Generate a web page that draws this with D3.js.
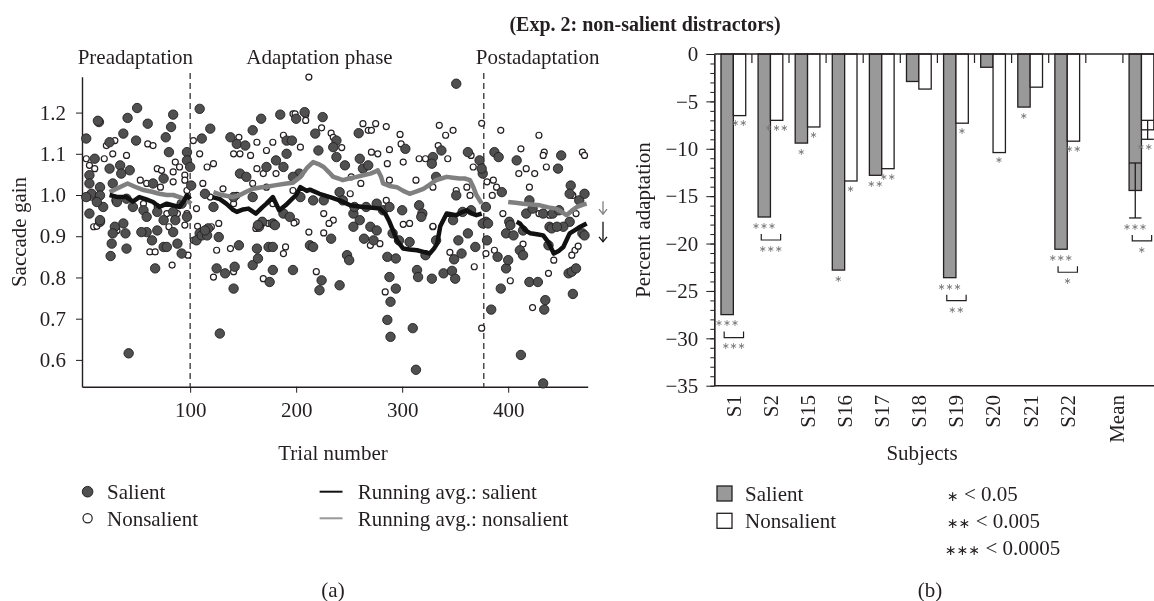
<!DOCTYPE html>
<html>
<head>
<meta charset="utf-8">
<script src="https://cdn.jsdelivr.net/npm/d3@7"></script>
<style>
body { margin: 0; background: #fff; }
svg { will-change: transform; }
text { font-family: "Liberation Serif", "Times New Roman", serif; font-size: 21px; fill: #231f20; }
.star { font-family: "DejaVu Sans", sans-serif; font-size: 9.5px; fill: #7a7a7a; }
.title { font-weight: bold; font-size: 20px; }
</style>
</head>
<body>
<div id="chart"></div>
<script>
// ---------- data, panel (a) ----------
const phaseBounds = [100, 377]
const phaseLabels = ["Preadaptation", "Adaptation phase", "Postadaptation"]
const gainTicks = [0.6, 0.7, 0.8, 0.9, 1.0, 1.1, 1.2]
const trialTicks = [100, 200, 300, 400]

// [trial, saccade gain]
const salientPts = [
    [2,1.137],[14,1.177],[13,1.18],[41,1.187],[50,1.211],[60,1.173],[37,1.149],[49,1.132],[84,1.195],[82,1.165],[77,1.14],[80,1.104],
    [109,1.209],[111,1.137],[119,1.161],[97,1.104],[24,1.128],[10,1.088],[24,1.064],[34,1.072],[43,1.06],[5,1.048],[35,1.052],[5,1.028],
    [27,1.028],[15,1.019],[65,1.028],[75,1.04],[7,1.003],[2,0.995],[15,0.999],[18,0.971],[12,0.983],[31,0.983],[40,0.991],[46,0.971],
    [56,0.963],[59,0.947],[69,0.959],[75,0.939],[84,0.959],[92,0.979],[97,0.947],[101,1.023],[97,1.084],[100,1.068],[5,0.955],[15,0.935],
    [29,0.923],[37,0.931],[59,0.91],[69,0.914],[84,0.91],[117,0.919],[109,0.907],[114,1.003],[122,0.971],[138,1.14],[144,1.124],[152,1.12],
    [159,1.157],[167,1.185],[185,1.195],[191,1.132],[191,1.1],[181,1.084],[172,1.068],[147,1.052],[153,1.044],[188,1.068],[203,1.052],
    [141,0.995],[159,0.995],[168,0.935],[178,0.931],[165,0.923],[188,0.955],[194,0.947],
    [15,0.939],[27,0.907],[26,0.882],[25,0.852],[39,0.907],[40,0.87],[54,0.91],[64,0.89],[67,0.822],[75,0.874],[78,0.874],[88,0.882],
    [92,0.858],[86,0.939],[42,0.616],[106,0.89],[111,0.902],[116,0.902],[114,0.914],[127,0.898],[125,0.822],[133,0.81],[142,0.826],
    [146,0.878],[141,0.773],[128,0.664],[159,0.83],[164,0.846],[163,0.87],[164,0.927],[174,0.874],[178,0.874],[175,0.789],[178,0.818],
    [197,0.818],[180,0.927],
    [200,1.185],[208,1.201],[225,1.189],[218,1.149],[221,1.108],[196,1.132],[238,1.132],[235,1.116],[238,1.092],[259,1.15],[246,1.072],
    [260,1.088],[263,1.064],[268,1.072],[303,1.112],[329,1.092],[337,1.108],[328,1.076],[351,1.27],[362,1.104],[373,1.084],[376,1.052],
    [387,1.104],[391,1.092],[408,1.084],[450,1.096],[447,1.064],[459,1.023],[204,0.995],[197,1.044],[226,0.987],[216,0.987],[241,1.007],
    [244,0.987],[254,0.955],[260,0.939],[255,0.971],[270,0.923],[266,0.971],[276,0.979],[282,0.963],[288,0.971],[291,0.907],[300,0.963],
    [316,0.975],[319,0.955],[318,0.947],[332,1.044],[351,0.999],[357,0.959],[348,0.939],[365,0.963],[375,1.064],[379,0.935],[379,0.971],
    [401,0.935],[417,0.955],[423,0.967],[433,0.955],[442,0.955],[448,0.963],[458,1.003],[467,0.987],[472,1.003],[470,0.907],[458,0.935],
    [452,0.923],[439,0.923],[414,0.914],[398,0.907],[420,0.987],[394,1.007],
    [213,0.878],[216,0.874],[222,0.769],[224,0.793],[233,0.894],[241,0.781],[248,0.854],[250,0.842],[254,0.923],[264,0.894],[273,0.89],
    [276,0.914],[286,0.85],[288,0.801],[286,0.697],[289,0.656],[289,0.741],[294,0.773],[294,0.846],[297,0.89],[307,0.886],[310,0.677],
    [313,0.576],[314,0.818],[315,0.801],[322,0.854],[328,0.797],[332,0.89],[339,0.81],[347,0.816],[349,0.844],[350,0.797],[353,0.89],
    [356,0.858],[362,0.907],[369,0.874],[376,0.931],[381,0.931],[380,0.89],[384,0.722],[390,0.85],[393,0.773],[398,0.822],[400,0.842],
    [402,0.927],[405,0.902],[412,0.612],[411,0.866],[414,0.854],[420,0.789],[428,0.789],[435,0.745],[434,0.722],[433,0.543],[441,0.919],
    [438,0.878],[446,0.923],[457,0.81],[461,0.76],[460,0.814],[464,0.822],[472,0.902]
]

const nonsalientPts = [
    [2,1.088],[5,1.072],[10,1.064],[19,1.088],[21,1.12],[29,1.132],[27,1.1],[40,1.096],[60,1.124],[65,1.12],[69,1.064],[73,1.06],
    [84,1.056],[86,1.08],[90,1.068],[95,1.048],[103,1.132],[109,1.1],[122,1.076],[116,1.068],[112,1.028],[95,1.036],[59,1.028],[84,1.032],
    [72,1.019],[97,1.011],[53,1.036],[29,0.987],[56,0.979],[69,0.971],[78,0.955],[88,0.955],[97,0.955],[106,0.967],[119,0.995],[131,1.015],
    [144,0.999],[141,1.1],[146,1.14],[147,1.1],[157,1.096],[163,1.128],[172,1.108],[178,1.128],[188,1.145],[197,1.197],[163,1.064],
    [169,1.052],[181,1.052],[159,1.028],[172,1.019],[197,1.011],[127,0.931],[141,0.979],[178,0.979],[200,0.935],[7,0.995],
    [9,0.923],[12,0.924],[31,0.914],[62,0.862],[67,0.862],[80,0.923],[83,0.83],[95,0.927],[98,0.854],[103,0.89],[107,0.924],[120,0.923],
    [122,0.801],[125,0.866],[138,0.87],[141,0.814],[169,0.797],[162,0.919],[188,0.858],[190,0.874],[174,0.931],
    [212,1.286],[199,1.197],[209,1.195],[209,1.181],[224,1.163],[233,1.15],[235,1.14],[243,1.115],[263,1.173],[268,1.157],[271,1.157],
    [275,1.173],[285,1.166],[298,1.147],[299,1.124],[288,1.11],[277,1.1],[271,1.104],[348,1.157],[341,1.145],[335,1.169],[334,1.12],
    [375,1.174],[393,1.157],[412,1.112],[429,1.145],[434,1.104],[433,1.096],[470,1.104],[472,1.096],[204,1.116],[301,1.08],[286,1.076],
    [316,1.088],[322,1.088],[343,1.088],[367,1.068],[365,1.096],[417,1.064],[410,1.052],[425,1.052],[436,1.068],[252,1.044],[261,1.028],
    [288,1.036],[313,1.036],[329,1.019],[351,1.011],[361,1.019],[380,1.032],[386,1.036],[389,1.019],[385,0.999],[420,1.019],[461,0.999],
    [226,0.955],[251,1.003],[235,0.939],[285,0.987],[307,0.931],[329,0.923],[364,0.999],[395,0.955],[429,0.955],[439,0.951],[464,0.955],
    [198,0.932],[212,0.91],[219,0.814],[226,0.908],[231,0.931],[270,0.878],[279,0.882],[284,0.765],[301,0.929],[329,0.924],[345,0.861],
    [368,0.826],[379,0.858],[375,0.677],[387,0.866],[402,0.792],[414,0.881],[423,0.727],[438,0.81],[443,0.842],[463,0.866],[466,0.876],
    [460,0.854]
]

// running averages, one segment per phase
const avgSalient = [
    [[24,1.0],[32,0.995],[40,0.995],[46,0.984],[52,0.995],[58,0.99],[65,0.983],[71,0.971],[78,0.979],[84,0.975],[90,0.971],[94,0.985],[97,1.0],[100,0.99]],
    [[121,0.995],[128,0.99],[134,0.979],[140,0.965],[144,0.959],[150,0.965],[155,0.967],[162,0.955],[168,0.97],[172,0.979],[178,0.995],
     [184,0.963],[190,0.975],[194,0.985],[200,1.0],[204,1.019],[210,1.01],[213,1.013],[222,1.003],[232,0.995],[241,0.987],[251,0.975],
     [263,0.971],[272,0.969],[279,0.967],[284,0.955],[288,0.935],[292,0.91],[295,0.89],[301,0.87],[307,0.868],[314,0.866],[320,0.862],
     [326,0.858],[330,0.87],[333,0.882],[336,0.925],[339,0.94],[342,0.955],[351,0.951],[356,0.958],[361,0.963],[366,0.955],[370,0.951],[375,0.955]],
    [[408,0.935],[411,0.931],[416,0.915],[421,0.907],[427,0.905],[433,0.902],[438,0.885],[443,0.858],[448,0.865],[452,0.874],[458,0.907],
     [463,0.915],[468,0.923],[474,0.931]]
]
const avgNonsalient = [
    [[24,1.007],[33,1.018],[41,1.028],[48,1.02],[56,1.012],[64,1.008],[71,1.003],[78,1.0],[84,1.0],[90,0.995],[97,0.987],[101,0.979]],
    [[122,1.007],[130,1.0],[140,0.995],[147,1.0],[153,1.008],[159,1.015],[166,1.018],[172,1.02],[181,1.024],[191,1.028],[197,1.03],
     [204,1.044],[210,1.065],[216,1.08],[221,1.075],[226,1.068],[231,1.055],[235,1.044],[240,1.04],[244,1.036],[250,1.04],[257,1.044],
     [263,1.048],[270,1.052],[274,1.056],[277,1.06],[280,1.045],[282,1.028],[288,1.022],[295,1.019],[301,1.01],[307,1.003],[313,1.008],
     [320,1.015],[326,1.025],[332,1.036],[337,1.04],[342,1.044],[348,1.042],[354,1.04],[359,1.04],[364,1.036],[367,1.02],[370,1.0],[375,0.979]],
    [[400,0.983],[407,0.981],[414,0.979],[422,0.977],[430,0.975],[438,0.97],[445,0.967],[450,0.96],[455,0.951],[460,0.962],[465,0.971],
     [470,0.976],[474,0.979]]
]
// post-adaptation level arrows at right edge
const arrowLevels = [0.985, 0.935]

// ---------- data, panel (b) ----------
const subjects = ["S1", "S2", "S15", "S16", "S17", "S18", "S19", "S20", "S21", "S22", "Mean"]
const salientAdapt = [-27.5, -17.2, -9.4, -22.8, -12.8, -2.9, -23.6, -1.4, -5.6, -20.6, -14.4]
const nonsalientAdapt = [-6.5, -7.0, -7.7, -13.4, -12.1, -3.7, -7.3, -10.4, -3.5, -9.2, -8.0]
const meanSE = [2.9, 1.0]
const salientSig = ["***", "***", "*", "*", "**", "", "***", "", "*", "***", "***"]
const nonsalientSig = ["**", "***", "*", "*", "**", "", "*", "*", "", "**", "**"]
const diffSig = ["***", "***", "", "", "", "", "**", "", "", "*", "*"]
const adaptTicks = [0, -5, -10, -15, -20, -25, -30, -35]
const sigLegendStars = ["∗", "∗∗", "∗∗∗"]
const sigLegendText = [" < 0.05", " < 0.005", " < 0.0005"]

const width = 1154, height = 601
const ink = "#231f20"
const svg = d3.select("#chart").append("svg").attr("width", width).attr("height", height)

svg.append("text").attr("class", "title").attr("x", 645).attr("y", 31)
    .attr("text-anchor", "middle").text("(Exp. 2: non-salient distractors)")

/******* panel (a) *******/
const x = d3.scaleLinear().domain([-2, 475]).range([82, 587.7])
const y = d3.scaleLinear().domain([0.535, 1.287]).range([386.7, 76.7])
const ga = svg.append("g")

ga.append("g").attr("transform", "translate(82,0)").style("color", ink)
    .call(d3.axisLeft(y).tickValues(gainTicks).tickFormat(d3.format(".1f")).tickSize(6).tickSizeOuter(0).tickPadding(10))
    .call(g => g.select(".domain").attr("stroke-width", 1.4))
ga.append("g").attr("transform", "translate(0,386.7)").style("color", ink)
    .call(d3.axisBottom(x).tickValues(trialTicks).tickSize(6).tickSizeOuter(0).tickPadding(9))
    .call(g => g.select(".domain").attr("stroke-width", 1.4))

// phase dividers
ga.selectAll(".phase").data(phaseBounds).enter().append("line")
    .attr("x1", d => x(d)).attr("x2", d => x(d))
    .attr("y1", 73).attr("y2", 386.7)
    .attr("stroke", ink).attr("stroke-width", 1.2).attr("stroke-dasharray", "6 4")

ga.append("text").attr("x", x(phaseBounds[0]) + 3).attr("y", 64).attr("text-anchor", "end").text(phaseLabels[0])
ga.append("text").attr("x", x(222)).attr("y", 64).attr("text-anchor", "middle").text(phaseLabels[1])
ga.append("text").attr("x", x(phaseBounds[1]) - 8).attr("y", 64).attr("text-anchor", "start").text(phaseLabels[2])

// points
ga.append("g").selectAll("circle").data(nonsalientPts).enter().append("circle")
    .attr("cx", d => x(d[0])).attr("cy", d => y(d[1])).attr("r", 3)
    .attr("fill", "#fff").attr("stroke", ink).attr("stroke-width", 1.2)
ga.append("g").selectAll("circle").data(salientPts).enter().append("circle")
    .attr("cx", d => x(d[0])).attr("cy", d => y(d[1])).attr("r", 4.7)
    .attr("fill", "#505050").attr("stroke", ink).attr("stroke-width", 0.9)

const line = d3.line().x(d => x(d[0])).y(d => y(d[1]))
ga.append("g").selectAll("path").data(avgNonsalient).enter().append("path")
    .attr("d", line).attr("fill", "none").attr("stroke", "#808080").attr("stroke-width", 4.5).attr("stroke-linejoin", "round")
ga.append("g").selectAll("path").data(avgSalient).enter().append("path")
    .attr("d", line).attr("fill", "none").attr("stroke", "#111").attr("stroke-width", 4.5).attr("stroke-linejoin", "round")

// arrows
arrowLevels.forEach((v, i) => {
    const col = i === 0 ? "#808080" : "#111"
    const len = i === 0 ? 13 : 20
    const ax = 603, ay = y(v)
    ga.append("line").attr("x1", ax).attr("x2", ax).attr("y1", ay).attr("y2", ay + len)
        .attr("stroke", col).attr("stroke-width", 1.3)
    ga.append("path").attr("d", `M${ax - 4},${ay + len - 5}L${ax},${ay + len}L${ax + 4},${ay + len - 5}`)
        .attr("fill", "none").attr("stroke", col).attr("stroke-width", 1.3)
})

ga.append("text").attr("transform", "translate(18.5,232) rotate(-90)").attr("dy", "0.35em")
    .attr("text-anchor", "middle").text("Saccade gain")
ga.append("text").attr("x", 333).attr("y", 460).attr("text-anchor", "middle").text("Trial number")

// legend (a)
ga.append("circle").attr("cx", 87.6).attr("cy", 491.7).attr("r", 5.3).attr("fill", "#505050").attr("stroke", ink)
ga.append("circle").attr("cx", 87.6).attr("cy", 518.3).attr("r", 4.6).attr("fill", "#fff").attr("stroke", ink).attr("stroke-width", 1.2)
ga.append("text").attr("x", 107).attr("y", 491.7).attr("dy", "0.35em").text("Salient")
ga.append("text").attr("x", 107).attr("y", 518.3).attr("dy", "0.35em").text("Nonsalient")
ga.append("line").attr("x1", 319.6).attr("x2", 342.5).attr("y1", 491.7).attr("y2", 491.7).attr("stroke", "#111").attr("stroke-width", 2)
ga.append("line").attr("x1", 319.6).attr("x2", 342.5).attr("y1", 518.3).attr("y2", 518.3).attr("stroke", "#999").attr("stroke-width", 2)
ga.append("text").attr("x", 357.8).attr("y", 491.7).attr("dy", "0.35em").text("Running avg.: salient")
ga.append("text").attr("x", 357.8).attr("y", 518.3).attr("dy", "0.35em").text("Running avg.: nonsalient")
ga.append("text").attr("x", 333).attr("y", 590).attr("dy", "0.35em").attr("text-anchor", "middle").text("(a)")

/******* panel (b) *******/
const gb = svg.append("g")
const yb = d3.scaleLinear().domain([-35, 0]).range([385.7, 54])
// 12 slots: ten subjects, an empty slot, then Mean
const xb = d3.scaleBand().domain(d3.range(12)).range([714.8, 1160])
const step = xb.step(), bw = step / 3
const slotOf = i => (i < 10 ? i : 11)
const salX = i => xb(slotOf(i)) + step / 6
const nonX = i => salX(i) + bw

// minor + major y ticks
gb.append("g").attr("transform", "translate(714.3,0)").style("color", ink)
    .call(d3.axisLeft(yb).ticks(35).tickSize(4).tickFormat("").tickSizeOuter(0))
gb.append("g").attr("transform", "translate(714.3,0)").style("color", ink)
    .call(d3.axisLeft(yb).tickValues(adaptTicks).tickSize(8).tickSizeOuter(0).tickPadding(8))
    .call(g => g.select(".domain").attr("stroke-width", 1.4))

// separator ticks hanging from the zero line
gb.selectAll(".sep").data(d3.range(1, 12)).enter().append("line")
    .attr("x1", d => xb(d)).attr("x2", d => xb(d)).attr("y1", yb(0)).attr("y2", yb(0) + 9)
    .attr("stroke", ink).attr("stroke-width", 1.2)

gb.selectAll(".bs").data(salientAdapt).enter().append("rect")
    .attr("x", (d, i) => salX(i)).attr("y", yb(0)).attr("width", bw).attr("height", d => yb(d) - yb(0))
    .attr("fill", "#999").attr("stroke", ink).attr("stroke-width", 1.3)
gb.selectAll(".bn").data(nonsalientAdapt).enter().append("rect")
    .attr("x", (d, i) => nonX(i)).attr("y", yb(0)).attr("width", bw).attr("height", d => yb(d) - yb(0))
    .attr("fill", "#fff").attr("stroke", ink).attr("stroke-width", 1.3)

gb.append("line").attr("x1", 714.3).attr("x2", width).attr("y1", yb(0)).attr("y2", yb(0)).attr("stroke", ink).attr("stroke-width", 1.4)
gb.append("line").attr("x1", 714.3).attr("x2", width).attr("y1", yb(-35)).attr("y2", yb(-35)).attr("stroke", ink).attr("stroke-width", 1.4)

// error bars on Mean
const mi = subjects.length - 1
const errBottom = [yb(salientAdapt[mi] - meanSE[0]), yb(nonsalientAdapt[mi] - meanSE[1])]
;[[salX(mi), salientAdapt[mi], meanSE[0]], [nonX(mi), nonsalientAdapt[mi], meanSE[1]]].forEach(([bx, m, se]) => {
    const cx = bx + bw / 2
    gb.append("line").attr("x1", cx).attr("x2", cx).attr("y1", yb(m + se)).attr("y2", yb(m - se)).attr("stroke", ink).attr("stroke-width", 1.3)
    ;[m + se, m - se].forEach(v => gb.append("line").attr("x1", bx).attr("x2", bx + bw)
        .attr("y1", yb(v)).attr("y2", yb(v)).attr("stroke", ink).attr("stroke-width", 1.3))
})

// significance stars, kept inside the picture on the right
const star = s => s.replace(/\*/g, "∗")
function addStars(s, cx, cy) {
    const t = gb.append("text").attr("class", "star").attr("x", cx).attr("y", cy).attr("dy", "0.3em")
        .attr("text-anchor", "middle").text(star(s))
    const w = t.node().getComputedTextLength()
    if (cx + w / 2 > width - 1) t.attr("x", width - 1 - w / 2)
}
subjects.forEach((s, i) => {
    const sBottom = i === mi ? errBottom[0] : yb(salientAdapt[i])
    const nBottom = i === mi ? errBottom[1] : yb(nonsalientAdapt[i])
    const sc = salX(i) + bw / 2, nc = nonX(i) + bw / 2
    const sy = sBottom + 9
    if (salientSig[i]) addStars(salientSig[i], sc, sy)
    if (nonsalientSig[i]) addStars(nonsalientSig[i], nc, nBottom + 8)
    if (diffSig[i]) {
        const x0 = sc - 3, x1 = nc + 4, top = sy + 8, bot = top + 6
        gb.append("path").attr("d", `M${x0},${top}V${bot}H${x1}V${top}`)
            .attr("fill", "none").attr("stroke", ink).attr("stroke-width", 1.2)
        addStars(diffSig[i], (x0 + x1) / 2, bot + 9)
    }
})

// category labels (Mean label sits a little left of its bars, as in the original)
gb.selectAll(".cat").data(subjects).enter().append("text")
    .attr("transform", (d, i) => `translate(${i === mi ? xb(11) - 6 : nonX(i)},395) rotate(-90)`)
    .attr("dy", "0.35em").attr("text-anchor", "end").text(d => d)

gb.append("text").attr("transform", "translate(643,220) rotate(-90)").attr("dy", "0.35em")
    .attr("text-anchor", "middle").text("Percent adaptation")
gb.append("text").attr("x", 922).attr("y", 460).attr("text-anchor", "middle").text("Subjects")

// legend (b)
gb.append("rect").attr("x", 717).attr("y", 486).attr("width", 15).attr("height", 15).attr("fill", "#999").attr("stroke", ink).attr("stroke-width", 1.3)
gb.append("rect").attr("x", 717).attr("y", 513.3).attr("width", 15).attr("height", 15).attr("fill", "#fff").attr("stroke", ink).attr("stroke-width", 1.3)
gb.append("text").attr("x", 745).attr("y", 493.3).attr("dy", "0.35em").text("Salient")
gb.append("text").attr("x", 745).attr("y", 520.7).attr("dy", "0.35em").text("Nonsalient")
const sigl = gb.selectAll(".sigl").data(sigLegendStars).enter().append("text")
    .attr("x", (d, i) => i === 2 ? 945 : 947).attr("y", (d, i) => 494 + i * 27).attr("dy", "0.35em")
sigl.append("tspan").style("font-family", "DejaVu Sans, sans-serif").style("font-size", "14px").text(d => d)
sigl.append("tspan").text((d, i) => sigLegendText[i])
gb.append("text").attr("x", 930).attr("y", 590).attr("dy", "0.35em").attr("text-anchor", "middle").text("(b)")
</script>
</body>
</html>
